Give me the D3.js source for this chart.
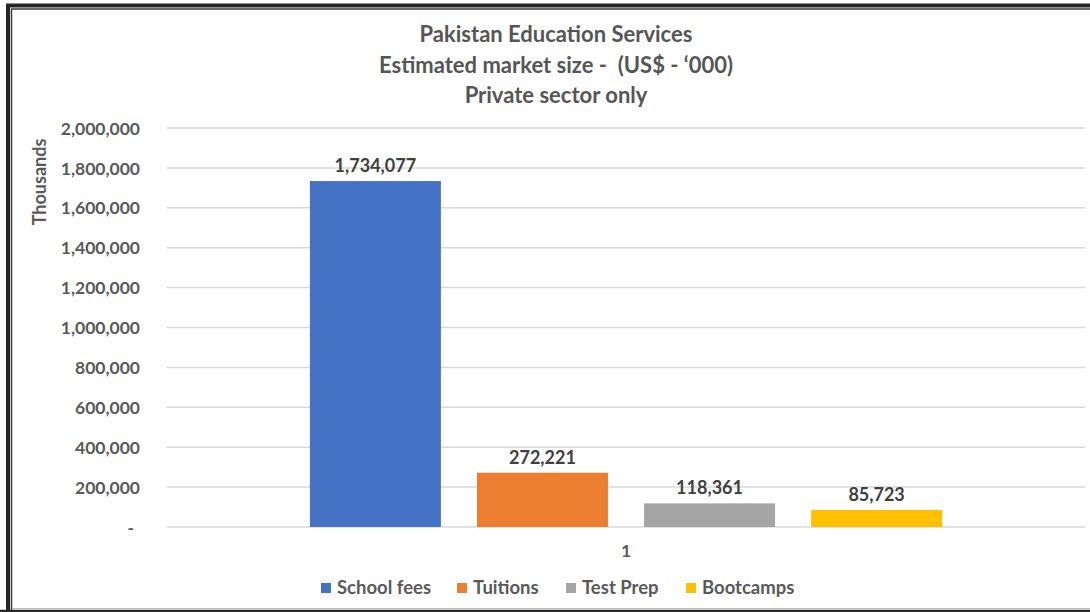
<!DOCTYPE html>
<html>
<head>
<meta charset="utf-8">
<script src="https://cdn.jsdelivr.net/npm/d3@7"></script>
<style>
  body { margin: 0; background: #fff; }
  text { font-family: Lato, "Open Sans", sans-serif; white-space: pre; }
</style>
</head>
<body>
<div id="chart"></div>
<script>
/************************
 *  Data
 ************************/
const categories = ["1"];
const seriesNames = ["School fees", "Tuitions", "Test Prep", "Bootcamps"];
const seriesValues = [1734077, 272221, 118361, 85723];
const seriesColors = ["#4472c4", "#ed7d31", "#a5a5a5", "#ffc000"];
const yTicks = [0, 200000, 400000, 600000, 800000, 1000000, 1200000, 1400000, 1600000, 1800000, 2000000];
const titleLines = ["Pakistan Education Services", "Estimated market size -  (US$ - \u2018000)", "Private sector only"];

/************************
 *  Setup
 ************************/
const width = 1090;
const height = 612;
const plot = { left: 167, right: 1085, top: 128, bottom: 527 };

const svg = d3.select("#chart")
  .append("svg")
  .attr("width", width)
  .attr("height", height);

// frame
svg.append("rect").attr("x", 0).attr("y", 0).attr("width", width).attr("height", height).attr("fill", "#fff");
svg.append("path")
  .attr("d", `M8,${height} V5.5 H${width}`)
  .attr("fill", "none").attr("stroke", "#262626").attr("stroke-width", 4);
svg.append("path")
  .attr("d", `M11.5,${height} V9 H${width}`)
  .attr("fill", "none").attr("stroke", "#3a3a3a").attr("stroke-width", 1.5);
svg.append("line")
  .attr("x1", 0).attr("x2", width).attr("y1", 611).attr("y2", 611)
  .attr("stroke", "#262626").attr("stroke-width", 2.5);
svg.append("line")
  .attr("x1", 12).attr("x2", width).attr("y1", 608.5).attr("y2", 608.5)
  .attr("stroke", "#bdbdbd").attr("stroke-width", 1);

// scales
const y = d3.scaleLinear().domain([0, 2000000]).range([plot.bottom, plot.top]);
const x0 = d3.scaleBand().domain(categories).range([plot.left, plot.right]).paddingInner(0).paddingOuter(0.226);
const x1 = d3.scaleBand().domain(seriesNames).range([0, x0.bandwidth()]).paddingInner(0.216).paddingOuter(0);
const color = d3.scaleOrdinal().domain(seriesNames).range(seriesColors);
const fmt = d3.format(",");

/************************
 *  Title
 ************************/
svg.append("g")
  .selectAll("text")
  .data(titleLines)
  .enter()
  .append("text")
  .attr("x", 556)
  .attr("y", (_, i) => 42 + i * 30.5)
  .attr("text-anchor", "middle")
  .style("font-size", "22px")
  .style("font-weight", "bold")
  .style("fill", "#555555")
  .text(d => d);

/************************
 *  Axes & grid
 ************************/
svg.append("g")
  .selectAll("line")
  .data(yTicks)
  .enter()
  .append("line")
  .attr("x1", plot.left)
  .attr("x2", plot.right)
  .attr("y1", d => y(d))
  .attr("y2", d => y(d))
  .style("stroke", "#d9d9d9")
  .style("stroke-width", 1.5);

const yAxis = svg.append("g")
  .attr("transform", `translate(140,0)`)
  .call(d3.axisLeft(y).tickValues(yTicks).tickSize(0).tickPadding(0)
    .tickFormat(d => d === 0 ? "-" : fmt(d)));
yAxis.select(".domain").remove();
yAxis.selectAll("text")
  .attr("dy", "0.35em")
  .style("font-family", "Lato, sans-serif")
  .style("font-size", "17.5px")
  .style("font-weight", "bold")
  .style("fill", "#595959");
yAxis.selectAll("text").filter(d => d === 0).attr("dx", "-6");

svg.append("text")
  .attr("transform", "translate(46,182) rotate(-90)")
  .attr("text-anchor", "middle")
  .style("font-size", "18px")
  .style("font-weight", "bold")
  .style("fill", "#595959")
  .text("Thousands");

const xAxis = svg.append("g")
  .attr("transform", `translate(0,${plot.bottom})`)
  .call(d3.axisBottom(x0).tickSize(0).tickPadding(18));
xAxis.select(".domain").remove();
xAxis.selectAll("text")
  .attr("dy", "0.71em")
  .style("font-family", "Lato, sans-serif")
  .style("font-size", "17.5px")
  .style("font-weight", "bold")
  .style("fill", "#595959");

/************************
 *  Bars
 ************************/
const rows = seriesNames.map((name, i) => ({ category: categories[0], name, value: seriesValues[i] }));

const group = svg.append("g")
  .selectAll("g")
  .data(categories)
  .enter()
  .append("g")
  .attr("transform", d => `translate(${x0(d)},0)`);

group.selectAll("rect")
  .data(c => rows.filter(r => r.category === c))
  .enter()
  .append("rect")
  .attr("x", d => x1(d.name))
  .attr("y", d => y(d.value))
  .attr("width", x1.bandwidth())
  .attr("height", d => y(0) - y(d.value))
  .style("fill", d => color(d.name));

group.selectAll(".label")
  .data(c => rows.filter(r => r.category === c))
  .enter()
  .append("text")
  .attr("class", "label")
  .attr("x", d => x1(d.name) + x1.bandwidth() / 2)
  .attr("y", d => y(d.value) - 9)
  .attr("text-anchor", "middle")
  .style("font-size", "18px")
  .style("font-weight", "bold")
  .style("fill", "#404040")
  .text(d => fmt(d.value));

/************************
 *  Legend
 ************************/
const legendX = [321, 457, 566, 686];
const legend = svg.append("g")
  .selectAll("g")
  .data(seriesNames)
  .enter()
  .append("g")
  .attr("transform", (_, i) => `translate(${legendX[i]},588)`);

legend.append("rect")
  .attr("x", 0)
  .attr("y", -5)
  .attr("width", 10)
  .attr("height", 10)
  .style("fill", d => color(d));

legend.append("text")
  .attr("x", 16)
  .attr("y", 0)
  .attr("dy", "0.35em")
  .style("font-size", "18.5px")
  .style("font-weight", "bold")
  .style("fill", "#595959")
  .text(d => d);
</script>
</body>
</html>
